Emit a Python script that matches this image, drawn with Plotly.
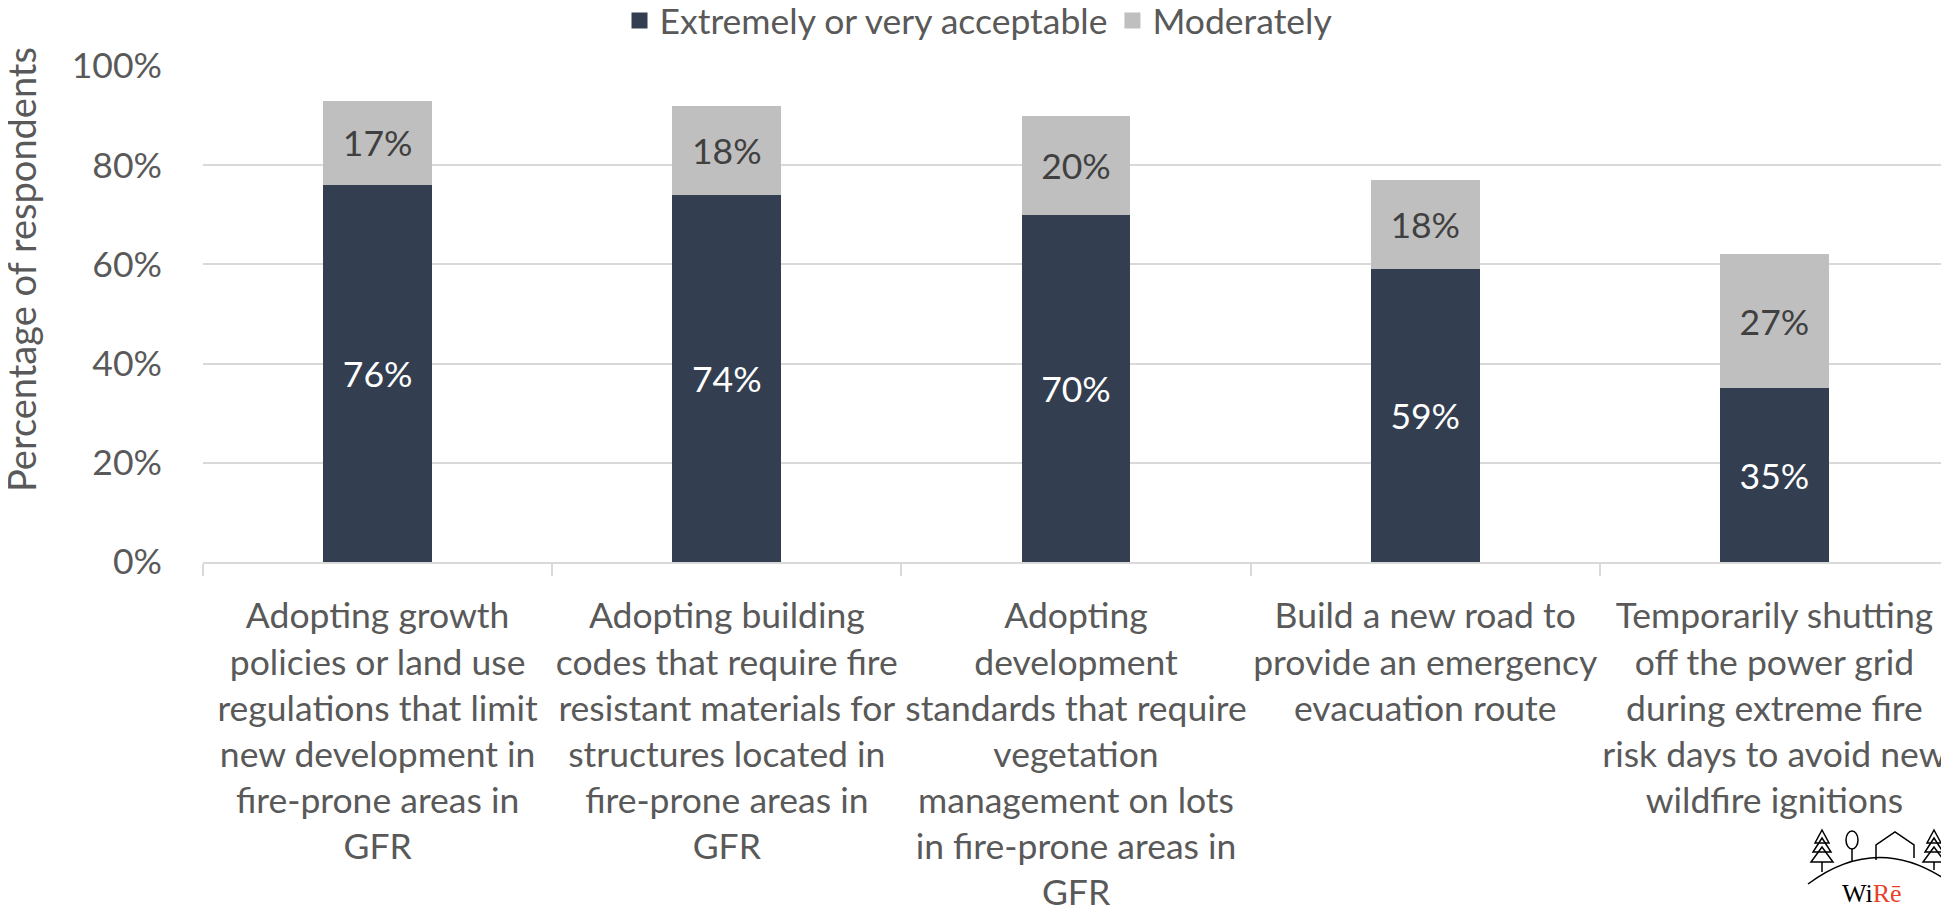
import plotly.graph_objects as go

categories = [
    "Adopting growth<br>policies or land use<br>regulations that limit<br>new development in<br>fire-prone areas in<br>GFR",
    "Adopting building<br>codes that require fire<br>resistant materials for<br>structures located in<br>fire-prone areas in<br>GFR",
    "Adopting<br>development<br>standards that require<br>vegetation<br>management on lots<br>in fire-prone areas in<br>GFR",
    "Build a new road to<br>provide an emergency<br>evacuation route",
    "Temporarily shutting<br>off the power grid<br>during extreme fire<br>risk days to avoid new<br>wildfire ignitions",
]
extremely = [0.76, 0.74, 0.70, 0.59, 0.35]
moderately = [0.17, 0.18, 0.20, 0.18, 0.27]
y_ticks = [0, 0.2, 0.4, 0.6, 0.8, 1.0]
y_tick_text = ["0%", "20%", "40%", "60%", "80%", "100%"]

series_names = ["Extremely or very acceptable", "Moderately"]
series_colors = ["#333F50", "#BFBFBF"]
label_colors = ["#FFFFFF", "#404040"]

font_family = "Lato, 'Open Sans', sans-serif"
grey_text = "#595959"
fs = 35.5

# the page body adds an 8px margin, so the figure is 8px smaller each way
OFF = 8
W, H = 1949 - OFF, 908 - OFF
L, T, B = 203 - OFF, 66 - OFF, 346

fig = go.Figure()

for name, vals, col, tcol in zip(series_names, [extremely, moderately], series_colors, label_colors):
    fig.add_trace(go.Bar(
        x=categories,
        y=vals,
        name=name,
        showlegend=False,
        marker=dict(color=col, line=dict(width=0)),
        text=[f"{v:.0%}" for v in vals],
        textposition="inside",
        insidetextanchor="middle",
        textfont=dict(color=tcol, size=fs, family=font_family),
    ))

# legend entries with bigger square swatches
for name, col in zip(series_names, series_colors):
    fig.add_trace(go.Scatter(
        x=[None], y=[None],
        mode="markers",
        name=name,
        marker=dict(symbol="square", size=18, color=col),
    ))

fig.update_layout(
    barmode="stack",
    bargap=0.688,
    width=W,
    height=H,
    margin=dict(l=L, r=0, t=T, b=B),
    plot_bgcolor="white",
    paper_bgcolor="white",
    font=dict(family=font_family, size=fs, color=grey_text),
    legend=dict(
        orientation="h",
        xref="container",
        yref="container",
        x=0.5,
        xanchor="center",
        y=1 - 13 / H,
        yanchor="middle",
        font=dict(size=fs, color=grey_text),
        itemsizing="trace",
        itemwidth=30,
        traceorder="normal",
        tracegroupgap=0,
    ),
)

fig.update_yaxes(
    range=[0, 1.0],
    tickvals=y_ticks,
    ticktext=y_tick_text,
    showgrid=True,
    gridcolor="#D9D9D9",
    gridwidth=1.5,
    zeroline=False,
    showline=False,
    automargin=False,
    ticklabelstandoff=40,
    tickfont=dict(size=fs, color=grey_text),
)

fig.update_xaxes(
    showline=True,
    linecolor="#D9D9D9",
    linewidth=1.5,
    ticks="outside",
    tickson="boundaries",
    ticklen=12,
    tickcolor="#D9D9D9",
    tickwidth=1.5,
    automargin=False,
    ticklabelstandoff=22,
    tickfont=dict(size=fs, color=grey_text),
    tickangle=0,
)


# pixel (in the screenshot) -> paper helpers
def px(x):
    return (x - OFF - L) / (W - L)


def py(y):
    return (H - B - (y - OFF)) / (H - T - B)


# y-axis title sits a bit above the plot's middle in the reference
fig.add_annotation(
    xref="paper", yref="paper",
    x=px(21), y=py(270),
    text="Percentage of respondents",
    textangle=-90,
    showarrow=False,
    font=dict(size=38, color=grey_text, family=font_family),
    xanchor="center", yanchor="middle",
)

# small WiRē logo in the bottom-right corner
logo_line = dict(color="black", width=1.5)
# ground arc
fig.add_shape(type="path", xref="paper", yref="paper", line=logo_line,
              path=f"M {px(1808)},{py(884)} Q {px(1878)},{py(832)} {px(1949)},{py(882)}")
# pine trees
for cx, base in [(1822, 872), (1934, 870)]:
    for top, bot, half in [(830, 843, 7), (838, 852, 9), (847, 862, 11)]:
        fig.add_shape(type="path", xref="paper", yref="paper", line=logo_line,
                      path=f"M {px(cx)},{py(top)} L {px(cx - half)},{py(bot)} L {px(cx + half)},{py(bot)} Z")
    fig.add_shape(type="line", xref="paper", yref="paper", line=logo_line,
                  x0=px(cx), x1=px(cx), y0=py(862), y1=py(base))
# round tree
fig.add_shape(type="circle", xref="paper", yref="paper", line=logo_line,
              x0=px(1846), x1=px(1858), y0=py(849), y1=py(831))
fig.add_shape(type="line", xref="paper", yref="paper", line=logo_line,
              x0=px(1852), x1=px(1852), y0=py(849), y1=py(862))
# house
fig.add_shape(type="path", xref="paper", yref="paper", line=logo_line,
              path=(f"M {px(1876)},{py(860)} L {px(1876)},{py(845)} L {px(1895)},{py(832)} "
                    f"L {px(1914)},{py(845)} L {px(1914)},{py(858)}"))
fig.add_annotation(
    xref="paper", yref="paper",
    x=px(1872), y=py(893),
    text="<span style='color:black'>Wi</span><span style='color:#E8412C'>Rē</span>",
    showarrow=False,
    font=dict(family="'Liberation Serif', serif", size=26),
    xanchor="center", yanchor="middle",
)

fig.write_html("out.html")
